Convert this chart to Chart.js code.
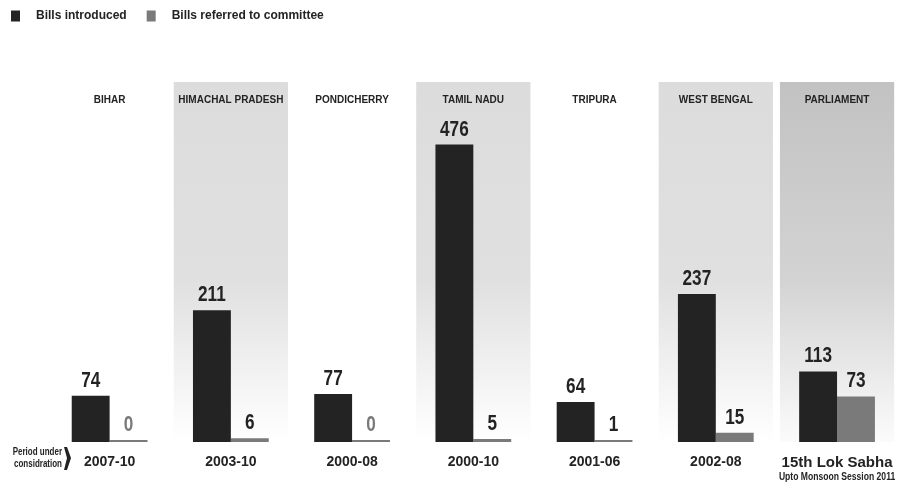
<!DOCTYPE html>
<html>
<head>
<meta charset="utf-8">
<script src="https://cdn.jsdelivr.net/npm/chart.js@4/dist/chart.umd.min.js"></script>
<style>
  html, body { margin: 0; padding: 0; background: #fff; }
  #wrap { width: 905px; height: 485px; }
</style>
</head>
<body>
<div id="wrap"><canvas id="billsChart" width="905" height="485"></canvas></div>
<script>
// Chart data
const states = ['BIHAR', 'HIMACHAL PRADESH', 'PONDICHERRY', 'TAMIL NADU', 'TRIPURA', 'WEST BENGAL', 'PARLIAMENT'];
const periods = ['2007-10', '2003-10', '2000-08', '2000-10', '2001-06', '2002-08', '15th Lok Sabha'];
const billsIntroduced = [74, 211, 77, 476, 64, 237, 113];
const billsReferred = [0, 6, 0, 5, 1, 15, 73];
const parliamentNote = 'Upto Monsoon Session 2011';
const periodNote = ['Period under', 'considration'];

const FONT = "'Liberation Sans', Arial, sans-serif";
const DARK = '#232323';
const GREY = '#7a7a7a';

// shaded panels behind some groups
const panelShade = {
  1: ['#dcdcdc', '#e0e0e0', '#ffffff'],
  3: ['#dcdcdc', '#e0e0e0', '#ffffff'],
  5: ['#dcdcdc', '#e0e0e0', '#ffffff'],
  6: ['#c2c2c2', '#d3d3d3', '#fbfbfb']
};

// draw text squeezed horizontally, to mimic the narrow face of the original
function narrowText(ctx, text, x, y, squeeze) {
  ctx.save();
  ctx.translate(x, y);
  ctx.scale(squeeze, 1);
  ctx.fillText(text, 0, 0);
  ctx.restore();
}

const panelsPlugin = {
  id: 'panels',
  beforeDraw(chart) {
    const { ctx, chartArea, scales } = chart;
    const x = scales.x;
    const half = (x.getPixelForValue(1) - x.getPixelForValue(0)) / 2 - 3.5;
    const top = chartArea.top - 32;
    ctx.save();
    Object.keys(panelShade).forEach(i => {
      const cx = x.getPixelForValue(Number(i));
      const g = ctx.createLinearGradient(0, top, 0, chartArea.bottom);
      const c = panelShade[i];
      g.addColorStop(0, c[0]);
      g.addColorStop(0.55, c[1]);
      g.addColorStop(1, c[2]);
      ctx.fillStyle = g;
      ctx.fillRect(cx - half, top, half * 2, chartArea.bottom - top);
    });
    ctx.restore();
  }
};

const valueLabels = {
  id: 'valueLabels',
  afterDatasetsDraw(chart) {
    const { ctx } = chart;
    ctx.save();
    ctx.font = 'bold 22px ' + FONT;
    ctx.textAlign = 'center';
    ctx.textBaseline = 'alphabetic';
    chart.data.datasets.forEach((ds, di) => {
      chart.getDatasetMeta(di).data.forEach((bar, i) => {
        const v = ds.data[i];
        ctx.fillStyle = (di === 1 && v === 0) ? GREY : DARK;
        narrowText(ctx, String(v), bar.x, bar.y - 9, 0.78);
      });
    });
    ctx.restore();
  }
};

const notes = {
  id: 'notes',
  afterDraw(chart) {
    const { ctx, chartArea, scales } = chart;
    const x = scales.x;
    const b = chartArea.bottom;
    ctx.save();
    ctx.fillStyle = DARK;
    // parliament sub-label
    ctx.font = 'bold 11px ' + FONT;
    ctx.textAlign = 'center';
    ctx.textBaseline = 'middle';
    narrowText(ctx, parliamentNote, x.getPixelForValue(6), b + 35, 0.78);
    // period note with arrow
    ctx.textAlign = 'right';
    ctx.font = 'bold 10px ' + FONT;
    narrowText(ctx, periodNote[0], chartArea.left + 13, b + 10, 0.8);
    narrowText(ctx, periodNote[1], chartArea.left + 13, b + 22, 0.8);
    const ax = chartArea.left + 15;
    ctx.beginPath();
    ctx.moveTo(ax, b + 5);
    ctx.lineTo(ax + 3, b + 5);
    ctx.lineTo(ax + 7, b + 16);
    ctx.lineTo(ax + 3, b + 28);
    ctx.lineTo(ax, b + 28);
    ctx.lineTo(ax + 3, b + 16);
    ctx.closePath();
    ctx.fill();
    ctx.restore();
  }
};

new Chart(document.getElementById('billsChart'), {
  type: 'bar',
  data: {
    labels: periods,
    datasets: [
      { label: 'Bills introduced', data: billsIntroduced, backgroundColor: DARK, minBarLength: 2 },
      { label: 'Bills referred to committee', data: billsReferred, backgroundColor: GREY, minBarLength: 2 }
    ]
  },
  options: {
    responsive: false,
    animation: false,
    layout: { padding: { left: 1, right: 6, top: 0, bottom: 13 } },
    datasets: { bar: { categoryPercentage: 0.625, barPercentage: 1 } },
    plugins: {
      tooltip: { enabled: false },
      legend: {
        position: 'top',
        align: 'start',
        labels: {
          boxWidth: 9,
          boxHeight: 11,
          padding: 10,
          color: DARK,
          font: { family: FONT, size: 12, weight: 'bold' },
          generateLabels(chart) {
            return Chart.defaults.plugins.legend.labels.generateLabels(chart).map(l => {
              l.text = '   ' + l.text + '   ';
              l.lineWidth = 0;
              return l;
            });
          }
        }
      }
    },
    scales: {
      x: {
        position: 'bottom',
        grid: { display: false, drawTicks: false },
        border: { display: false },
        ticks: {
          padding: 12,
          autoSkip: false,
          maxRotation: 0,
          minRotation: 0,
          color: DARK,
          font: ctx => ({ family: FONT, weight: 'bold', size: ctx.index === 6 ? 15 : 14 })
        },
        afterFit(scale) { scale.height = 30; }
      },
      x2: {
        type: 'category',
        position: 'top',
        labels: states,
        offset: true,
        grid: { display: false },
        border: { display: false },
        ticks: {
          padding: 0,
          autoSkip: false,
          maxRotation: 0,
          minRotation: 0,
          color: DARK,
          font: { family: FONT, size: 10, weight: 'bold' }
        },
        afterFit(scale) { scale.height = 82; }
      },
      y: {
        min: 0,
        max: 525,
        grid: { display: false },
        border: { display: false },
        ticks: { display: false },
        afterFit(scale) { scale.width = 48; }
      }
    }
  },
  plugins: [panelsPlugin, valueLabels, notes]
});
</script>
</body>
</html>
